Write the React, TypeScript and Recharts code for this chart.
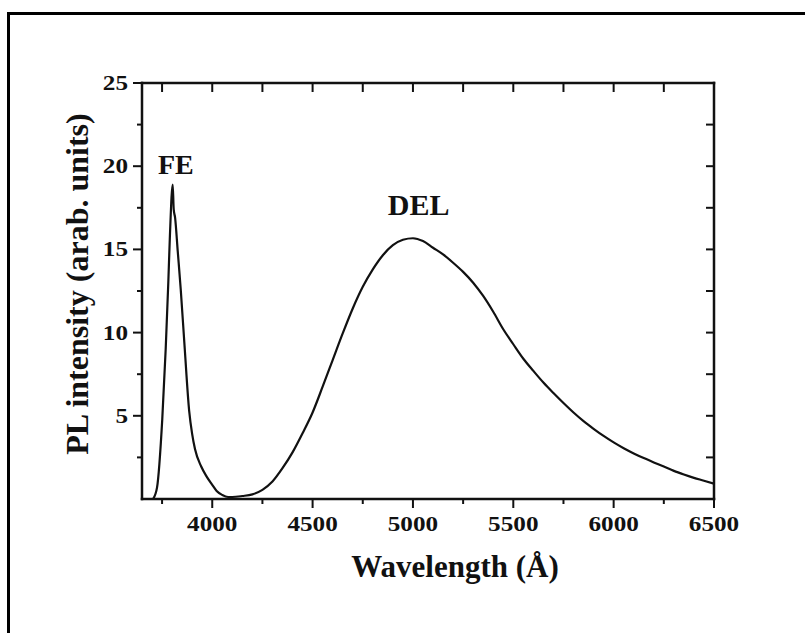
import React from "react";
import { LineChart, Line, XAxis, YAxis, ReferenceDot } from "recharts";

// wavelength (Å) and PL intensity
const wavelength = [
  3705, 3725, 3751, 3768, 3781, 3789, 3803, 3808, 3815, 3828, 3843, 3862, 3885,
  3900, 3914, 3945, 3973, 4000, 4022, 4050, 4079, 4100, 4150, 4200, 4250, 4300,
  4350, 4400, 4450, 4500, 4550, 4600, 4650, 4700, 4750, 4800, 4850, 4900, 4950,
  5000, 5050, 5100, 5150, 5200, 5250, 5300, 5350, 5400, 5450, 5500, 5550, 5600,
  5650, 5700, 5750, 5800, 5850, 5900, 5950, 6000, 6050, 6100, 6150, 6200, 6250,
  6300, 6350, 6400, 6450, 6500,
];
const intensity = [
  0, 0.7, 4.8, 9.0, 13.0, 15.8, 18.9, 17.4, 16.9, 14.9, 12.6, 9.2, 5.3,
  3.9, 3.0, 1.95, 1.33, 0.85, 0.48, 0.24, 0.12, 0.12, 0.18, 0.28, 0.55, 1.05,
  1.85, 2.8, 3.95, 5.2, 6.75, 8.35, 9.95, 11.45, 12.75, 13.8, 14.65, 15.25, 15.58,
  15.67, 15.5, 15.1, 14.7, 14.2, 13.65, 13.0, 12.2, 11.25, 10.2, 9.3, 8.43, 7.7,
  7.0, 6.37, 5.77, 5.2, 4.68, 4.22, 3.79, 3.4, 3.05, 2.74, 2.46, 2.2, 1.95,
  1.69, 1.47, 1.27, 1.1, 0.92,
];

const xTicks = [3750, 4000, 4250, 4500, 4750, 5000, 5250, 5500, 5750, 6000, 6250, 6500];
const xLabels = [4000, 4500, 5000, 5500, 6000, 6500];
const yTicks = [2.5, 5, 7.5, 10, 12.5, 15, 17.5, 20, 22.5, 25];
const yLabels = [5, 10, 15, 20, 25];

const data = wavelength.map((w, i) => ({ w, pl: intensity[i] }));

const FONT = '"Liberation Serif", "Times New Roman", serif';
const INK = "#111";

const BottomTick = ({ x, y, payload }: any) => {
  const major = xLabels.includes(payload.value);
  return (
    <g>
      <line x1={x} x2={x} y1={y} y2={y + (major ? 9 : 5)} stroke={INK} strokeWidth={2} />
      {major && (
        <g transform={`translate(${x} ${y + 32}) scale(1.2 1)`}>
          <text textAnchor="middle" fontFamily={FONT} fontWeight="bold" fontSize={21} fill={INK}>
            {payload.value}
          </text>
        </g>
      )}
    </g>
  );
};

const LeftTick = ({ x, y, payload }: any) => {
  const major = yLabels.includes(payload.value);
  return (
    <g>
      <line x1={x} x2={x - (major ? 9 : 5)} y1={y} y2={y} stroke={INK} strokeWidth={2} />
      {major && (
        <g transform={`translate(${x - 14} ${y + 7}) scale(1.2 1)`}>
          <text textAnchor="end" fontFamily={FONT} fontWeight="bold" fontSize={21} fill={INK}>
            {payload.value}
          </text>
        </g>
      )}
    </g>
  );
};

const TopTick = ({ x, y }: any) => (
  <line x1={x} x2={x} y1={y} y2={y + 9} stroke={INK} strokeWidth={2} />
);

const RightTick = ({ x, y }: any) => (
  <line x1={x} x2={x - 8} y1={y} y2={y} stroke={INK} strokeWidth={2} />
);

const XTitle = ({ viewBox }: any) => (
  <text
    x={viewBox.x + viewBox.width / 2 + 27}
    y={viewBox.y + 78}
    textAnchor="middle"
    fontFamily={FONT}
    fontWeight="bold"
    fontSize={31}
    fill={INK}
  >
    Wavelength (Å)
  </text>
);

const YTitle = ({ viewBox }: any) => (
  <text
    transform={`translate(${viewBox.x + viewBox.width - 54} ${viewBox.y + viewBox.height / 2 - 7}) rotate(-90)`}
    textAnchor="middle"
    fontFamily={FONT}
    fontWeight="bold"
    fontSize={32}
    fill={INK}
  >
    PL intensity (arab. units)
  </text>
);

const axisLine = { stroke: INK, strokeWidth: 2.5, strokeLinecap: "square" as const };
const peakLabel = (value: string, size: number) => ({
  value,
  position: "center" as const,
  fontFamily: FONT,
  fontWeight: 700,
  fontSize: size,
  fill: INK,
});

export default function App() {
  return (
    <div
      style={{
        position: "fixed",
        left: 0,
        top: 0,
        width: 805,
        height: 633,
        overflow: "hidden",
        background: "#fff",
      }}
    >
      <div
        style={{
          position: "absolute",
          left: 7,
          top: 12,
          width: 900,
          height: 900,
          border: "3px solid #000",
        }}
      />
      <div style={{ position: "absolute", left: 0, top: 0 }}>
        <LineChart
          width={805}
          height={633}
          data={data}
          margin={{ top: 82, right: 90, bottom: 133, left: 141 }}
        >
          <XAxis
            dataKey="w"
            type="number"
            domain={[3650, 6500]}
            ticks={xTicks}
            interval={0}
            allowDataOverflow
            height={1}
            tickSize={0}
            tickMargin={0}
            tickLine={false}
            axisLine={axisLine}
            tick={<BottomTick />}
            label={{ content: <XTitle /> }}
          />
          <XAxis
            xAxisId="top"
            orientation="top"
            dataKey="w"
            type="number"
            domain={[3650, 6500]}
            ticks={xTicks}
            interval={0}
            allowDataOverflow
            height={1}
            tickSize={0}
            tickMargin={0}
            tickLine={false}
            axisLine={axisLine}
            tick={<TopTick />}
          />
          <YAxis
            type="number"
            domain={[0, 25]}
            ticks={yTicks}
            interval={0}
            allowDataOverflow
            width={1}
            tickSize={0}
            tickMargin={0}
            tickLine={false}
            axisLine={axisLine}
            tick={<LeftTick />}
            label={{ content: <YTitle /> }}
          />
          <YAxis
            yAxisId="right"
            orientation="right"
            type="number"
            domain={[0, 25]}
            ticks={yTicks}
            interval={0}
            allowDataOverflow
            width={1}
            tickSize={0}
            tickMargin={0}
            tickLine={false}
            axisLine={axisLine}
            tick={<RightTick />}
          />
          <Line
            type="monotone"
            dataKey="pl"
            stroke={INK}
            strokeWidth={2.2}
            dot={false}
            isAnimationActive={false}
          />
          <ReferenceDot x={3819} y={20.1} r={0} stroke="none" fill="none" label={peakLabel("FE", 28)} />
          <ReferenceDot x={5028} y={17.7} r={0} stroke="none" fill="none" label={peakLabel("DEL", 30)} />
        </LineChart>
      </div>
    </div>
  );
}
